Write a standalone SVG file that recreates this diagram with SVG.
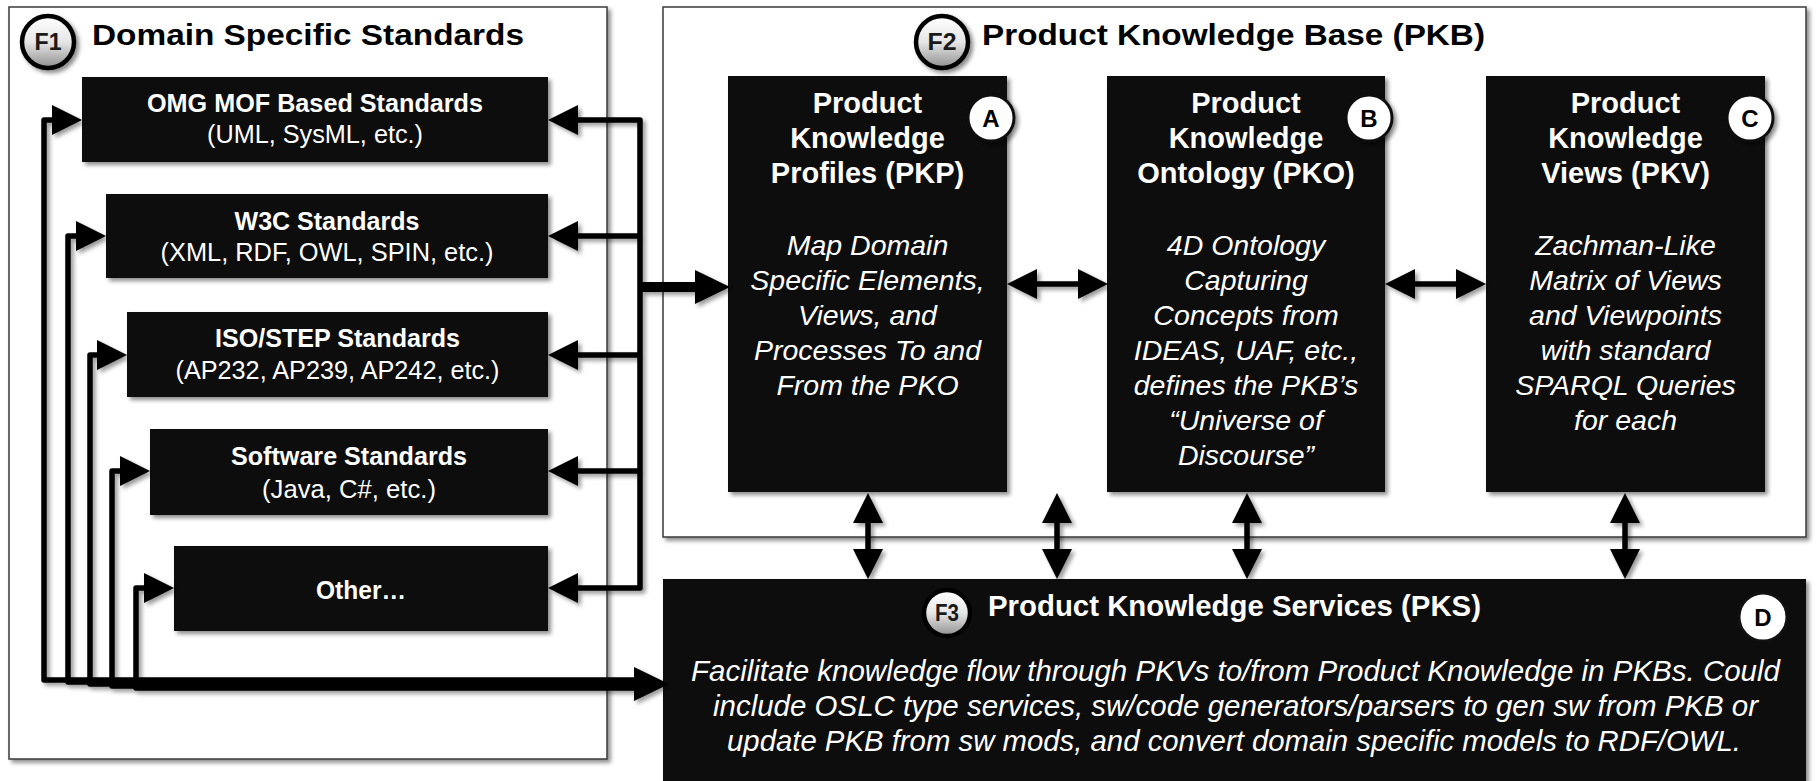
<svg xmlns="http://www.w3.org/2000/svg" width="1816" height="781" viewBox="0 0 1816 781">
<defs>
  <style>
    text { font-family: "Liberation Sans", Arial, sans-serif; }
    .ttl { font-size: 30px; font-weight: bold; fill: #000; }
    .bt { font-size: 25.5px; font-weight: bold; fill: #fff; text-anchor: middle; }
    .bs { font-size: 25px; fill: #fff; text-anchor: middle; }
    .ht { font-size: 29px; font-weight: bold; fill: #fff; text-anchor: middle; }
    .hi { font-size: 28.5px; font-style: italic; fill: #fff; text-anchor: middle; }
    .st { font-size: 29px; font-weight: bold; fill: #fff; }
    .si { font-size: 30px; font-style: italic; fill: #fff; }
    .cont { fill: #fff; stroke: #3a3a3a; stroke-width: 1.5; }
    .blk { fill: #0d0d0d; }
    .fc { fill: url(#cg); stroke: #000; stroke-width: 4.5; }
    .lc { fill: #fff; stroke: #111; stroke-width: 3; }
    .fl { font-size: 23px; font-weight: bold; fill: #1a1a1a; text-anchor: middle; }
    .ll { font-size: 24px; font-weight: bold; fill: #000; text-anchor: middle; }
    .cn { fill: none; stroke: #000; stroke-width: 5.5; stroke-linejoin: round; }
    .cb { fill: none; stroke: #000; stroke-width: 10; }
  </style>
  <linearGradient id="cg" x1="0" y1="0" x2="0" y2="1">
    <stop offset="0" stop-color="#ffffff"/>
    <stop offset="0.5" stop-color="#e6e6e6"/>
    <stop offset="1" stop-color="#8f8f8f"/>
  </linearGradient>
  <filter id="sh" x="-10%" y="-10%" width="130%" height="130%">
    <feDropShadow dx="3" dy="3" stdDeviation="2" flood-color="#000" flood-opacity="0.45"/>
  </filter>
  <filter id="shc" filterUnits="userSpaceOnUse" x="0" y="0" width="1816" height="781">
    <feDropShadow dx="3" dy="3" stdDeviation="2" flood-color="#000" flood-opacity="0.4"/>
  </filter>
  <marker id="ah" markerUnits="userSpaceOnUse" markerWidth="30" markerHeight="30" refX="10" refY="15" orient="auto-start-reverse" viewBox="0 0 30 30">
    <path d="M0,0 L30,15 L0,30 z" fill="#000"/>
  </marker>
  <marker id="ahb" markerUnits="userSpaceOnUse" markerWidth="35" markerHeight="34" refX="12" refY="17" orient="auto" viewBox="0 0 35 34">
    <path d="M0,0 L35,17 L0,34 z" fill="#000"/>
  </marker>
</defs>

<rect width="1816" height="781" fill="#fff"/>

<!-- F1 container -->
<g id="F1">
  <rect class="cont" x="9" y="7" width="598" height="752" filter="url(#sh)"/>
  <circle class="fc" cx="48" cy="42" r="26" filter="url(#sh)"/>
  <text class="fl" x="48" y="50" textLength="27" lengthAdjust="spacingAndGlyphs">F1</text>
  <text class="ttl" x="92" y="45" textLength="432" lengthAdjust="spacingAndGlyphs">Domain Specific Standards</text>
</g>

<!-- F2 container -->
<g id="F2">
  <rect class="cont" x="663" y="7" width="1143" height="530" filter="url(#sh)"/>
  <circle class="fc" cx="942" cy="42" r="26" filter="url(#sh)"/>
  <text class="fl" x="942" y="50" textLength="29" lengthAdjust="spacingAndGlyphs">F2</text>
  <text class="ttl" x="982" y="45" textLength="503" lengthAdjust="spacingAndGlyphs">Product Knowledge Base (PKB)</text>
</g>

<!-- F1 standards boxes -->
<g id="omg">
  <rect class="blk" x="82" y="77" width="466" height="85" filter="url(#sh)"/>
  <text class="bt" x="315" y="112" textLength="336" lengthAdjust="spacingAndGlyphs">OMG MOF Based Standards</text>
  <text class="bs" x="315" y="143" textLength="216" lengthAdjust="spacingAndGlyphs">(UML, SysML, etc.)</text>
</g>
<g id="w3c">
  <rect class="blk" x="106" y="194" width="442" height="84" filter="url(#sh)"/>
  <text class="bt" x="327" y="230" textLength="185" lengthAdjust="spacingAndGlyphs">W3C Standards</text>
  <text class="bs" x="327" y="261" textLength="333" lengthAdjust="spacingAndGlyphs">(XML, RDF, OWL, SPIN, etc.)</text>
</g>
<g id="iso">
  <rect class="blk" x="127" y="312" width="421" height="85" filter="url(#sh)"/>
  <text class="bt" x="337.5" y="347" textLength="245" lengthAdjust="spacingAndGlyphs">ISO/STEP Standards</text>
  <text class="bs" x="337.5" y="379" textLength="324" lengthAdjust="spacingAndGlyphs">(AP232, AP239, AP242, etc.)</text>
</g>
<g id="software">
  <rect class="blk" x="150" y="429" width="398" height="86" filter="url(#sh)"/>
  <text class="bt" x="349" y="465" textLength="236" lengthAdjust="spacingAndGlyphs">Software Standards</text>
  <text class="bs" x="349" y="498" textLength="174" lengthAdjust="spacingAndGlyphs">(Java, C#, etc.)</text>
</g>
<g id="other">
  <rect class="blk" x="174" y="546" width="374" height="85" filter="url(#sh)"/>
  <text class="bt" x="361" y="599" textLength="90" lengthAdjust="spacingAndGlyphs">Other…</text>
</g>

<!-- PKB boxes -->
<g id="pkp">
  <rect class="blk" x="728" y="76" width="279" height="416" filter="url(#sh)"/>
  <text class="ht" x="867.5" y="113">Product</text>
  <text class="ht" x="867.5" y="148">Knowledge</text>
  <text class="ht" x="867.5" y="183">Profiles (PKP)</text>
  <text class="hi" x="867.5" y="255">Map Domain</text>
  <text class="hi" x="867.5" y="290">Specific Elements,</text>
  <text class="hi" x="867.5" y="325">Views, and</text>
  <text class="hi" x="867.5" y="360">Processes To and</text>
  <text class="hi" x="867.5" y="395">From the PKO</text>
  <circle class="lc" cx="991" cy="118" r="23" filter="url(#sh)"/>
  <text class="ll" x="991" y="127">A</text>
</g>
<g id="pko">
  <rect class="blk" x="1107" y="76" width="278" height="416" filter="url(#sh)"/>
  <text class="ht" x="1246" y="113">Product</text>
  <text class="ht" x="1246" y="148">Knowledge</text>
  <text class="ht" x="1246" y="183">Ontology (PKO)</text>
  <text class="hi" x="1246" y="255">4D Ontology</text>
  <text class="hi" x="1246" y="290">Capturing</text>
  <text class="hi" x="1246" y="325">Concepts from</text>
  <text class="hi" x="1246" y="360">IDEAS, UAF, etc.,</text>
  <text class="hi" x="1246" y="395">defines the PKB’s</text>
  <text class="hi" x="1246" y="430">“Universe of</text>
  <text class="hi" x="1246" y="465">Discourse”</text>
  <circle class="lc" cx="1369" cy="118" r="23" filter="url(#sh)"/>
  <text class="ll" x="1369" y="127">B</text>
</g>
<g id="pkv">
  <rect class="blk" x="1486" y="76" width="279" height="416" filter="url(#sh)"/>
  <text class="ht" x="1625.5" y="113">Product</text>
  <text class="ht" x="1625.5" y="148">Knowledge</text>
  <text class="ht" x="1625.5" y="183">Views (PKV)</text>
  <text class="hi" x="1625.5" y="255">Zachman-Like</text>
  <text class="hi" x="1625.5" y="290">Matrix of Views</text>
  <text class="hi" x="1625.5" y="325">and Viewpoints</text>
  <text class="hi" x="1625.5" y="360">with standard</text>
  <text class="hi" x="1625.5" y="395">SPARQL Queries</text>
  <text class="hi" x="1625.5" y="430">for each</text>
  <circle class="lc" cx="1750" cy="118" r="23" filter="url(#sh)"/>
  <text class="ll" x="1750" y="127">C</text>
</g>

<!-- PKS -->
<g id="pks">
  <rect class="blk" x="663" y="579" width="1143" height="220" filter="url(#sh)"/>
  <circle class="fc" cx="947" cy="613" r="23" stroke-width="3"/>
  <text class="fl" x="947" y="621" font-size="21" textLength="24" lengthAdjust="spacingAndGlyphs">F3</text>
  <text class="st" x="988" y="616" textLength="493" lengthAdjust="spacingAndGlyphs">Product Knowledge Services (PKS)</text>
  <text class="si" x="691" y="681" textLength="1089" lengthAdjust="spacingAndGlyphs">Facilitate knowledge flow through PKVs to/from Product Knowledge in PKBs. Could</text>
  <text class="si" x="713" y="716" textLength="1045" lengthAdjust="spacingAndGlyphs">include OSLC type services, sw/code generators/parsers to gen sw from PKB or</text>
  <text class="si" x="727" y="751" textLength="1014" lengthAdjust="spacingAndGlyphs">update PKB from sw mods, and convert domain specific models to RDF/OWL.</text>
  <circle class="lc" cx="1763" cy="617" r="24"/>
  <text class="ll" x="1763" y="626">D</text>
</g>

<!-- connectors -->
<g id="connectors" filter="url(#shc)">
  <path class="cn" d="M640,680 H44 V120 H62" marker-end="url(#ah)"/>
  <path class="cn" d="M640,682 H68 V236 H86" marker-end="url(#ah)"/>
  <path class="cn" d="M640,684 H90 V355 H107" marker-end="url(#ah)"/>
  <path class="cn" d="M640,686 H112 V471 H130" marker-end="url(#ah)"/>
  <path class="cn" d="M640,688 H136 V588 H154" marker-end="url(#ah)"/>
  <path class="cb" d="M600,684 H646" stroke-width="12" marker-end="url(#ahb)"/>
  <path class="cn" d="M568,120 H640 V588 H568" marker-start="url(#ah)" marker-end="url(#ah)"/>
  <path class="cn" d="M640,236 H568" marker-end="url(#ah)"/>
  <path class="cn" d="M640,355 H568" marker-end="url(#ah)"/>
  <path class="cn" d="M640,471 H568" marker-end="url(#ah)"/>
  <path class="cb" d="M638,287 H707" marker-end="url(#ahb)"/>
  <path class="cn" d="M1027,284 H1088" marker-start="url(#ah)" marker-end="url(#ah)"/>
  <path class="cn" d="M1405,284 H1466" marker-start="url(#ah)" marker-end="url(#ah)"/>
  <path class="cn" d="M868,513 V559" marker-start="url(#ah)" marker-end="url(#ah)"/>
  <path class="cn" d="M1057,513 V559" marker-start="url(#ah)" marker-end="url(#ah)"/>
  <path class="cn" d="M1247,513 V559" marker-start="url(#ah)" marker-end="url(#ah)"/>
  <path class="cn" d="M1625,513 V559" marker-start="url(#ah)" marker-end="url(#ah)"/>
</g>
</svg>
